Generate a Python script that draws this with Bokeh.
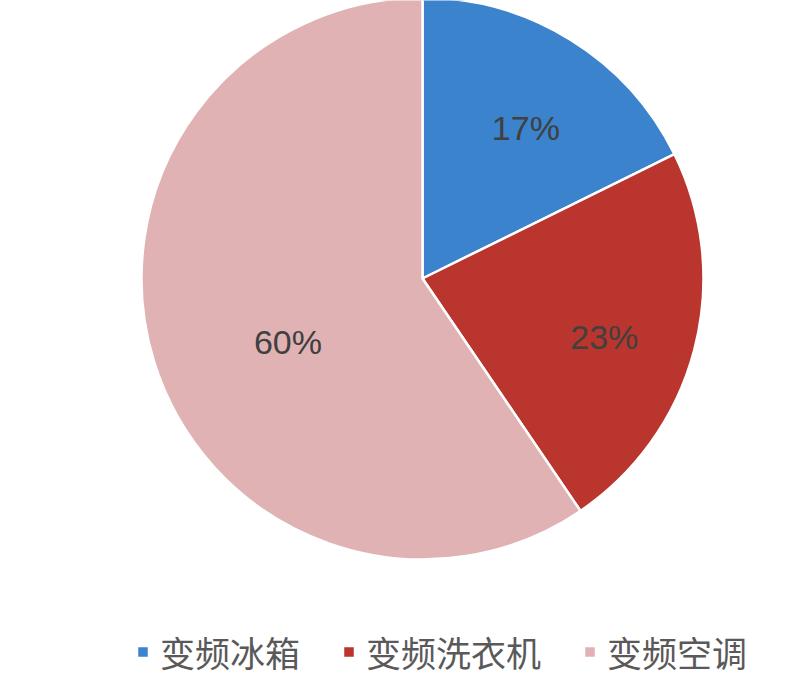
import math
from bokeh.plotting import figure
from bokeh.models import ColumnDataSource, Legend, LegendItem, Range1d
from bokeh.core.properties import value
from bokeh.embed import file_html
from bokeh.resources import INLINE

# ---- data ----
categories = ["变频冰箱", "变频洗衣机", "变频空调"]
shares = [17.7, 22.8, 59.5]
labels = ["17%", "23%", "60%"]
colors = ["#3B83CC", "#B9352D", "#E0B2B4"]

# ---- layout ----
W, H = 784, 682
cx, cy, R = 422, 404, 281
label_frac = [0.65, 0.68, 0.53]
label_turn_deg = [-2.6, -3.2, 8.3]

total = sum(shares)
starts, ends, mids = [], [], []
acc = 0.0
for s in shares:
    a0 = math.pi / 2 - acc / total * 2 * math.pi
    acc += s
    a1 = math.pi / 2 - acc / total * 2 * math.pi
    starts.append(a0)
    ends.append(a1)
    mids.append((a0 + a1) / 2)

lang = [m + math.radians(t) for m, t in zip(mids, label_turn_deg)]
lx = [cx + f * R * math.cos(a) for f, a in zip(label_frac, lang)]
ly = [cy + f * R * math.sin(a) for f, a in zip(label_frac, lang)]

p = figure(width=W, height=H, output_backend="svg", toolbar_location=None,
           x_range=Range1d(0, W), y_range=Range1d(0, H),
           min_border=0, outline_line_color=None)
p.axis.visible = False
p.grid.visible = False
p.background_fill_color = "white"
p.border_fill_color = "white"

items = []
for i, cat in enumerate(categories):
    src = ColumnDataSource(dict(x=[cx], y=[cy], s=[starts[i]], e=[ends[i]]))
    r = p.wedge(x="x", y="y", radius=R, start_angle="s", end_angle="e",
                direction="clock", source=src, fill_color=colors[i],
                line_color="white", line_width=2.5)
    items.append(LegendItem(label=cat, renderers=[r]))

tsrc = ColumnDataSource(dict(x=lx, y=ly, t=labels))
p.text(x="x", y="y", text="t", source=tsrc, text_align="center",
       text_baseline="middle", text_font=value("Liberation Sans"),
       text_font_size="34px", text_color="#404040")

legend = Legend(items=items, orientation="horizontal", location=(135, 5),
                label_text_font="Noto Sans CJK SC", label_text_font_size="35px",
                label_text_color="#595959", glyph_width=15, glyph_height=15,
                label_standoff=10, spacing=41, padding=0, margin=0,
                border_line_color=None, background_fill_alpha=0)
p.add_layout(legend, "center")

open("out.html", "w").write(file_html(p, INLINE))
